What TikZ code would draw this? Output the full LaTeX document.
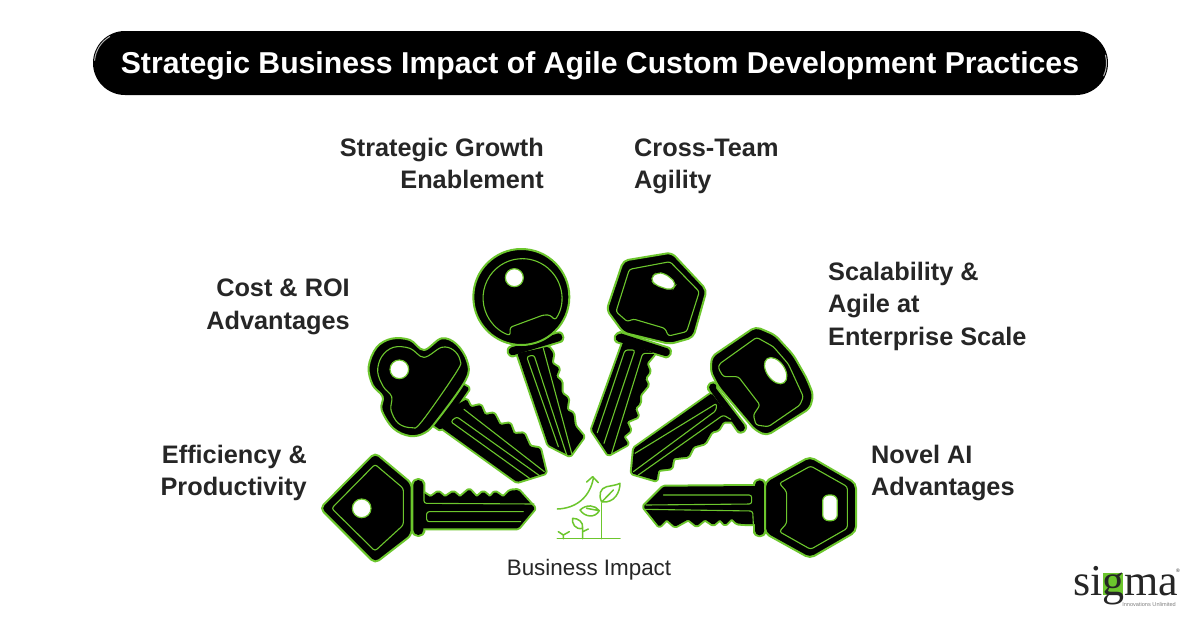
\documentclass[tikz,border=0pt]{standalone}
\usepackage{fontspec}
\usetikzlibrary{calc}
\setmainfont{Liberation Sans}
\newfontfamily\logofont{Liberation Serif}
\definecolor{keygreen}{HTML}{6CC62D}
\definecolor{labelink}{HTML}{262626}
\tikzset{
  keybody/.style={fill=black,draw=keygreen,line width=2pt,line join=round,rounded corners=5pt},
  halo/.style={draw=keygreen,line width=4pt,line join=round,rounded corners=1.5pt},
  solidpart/.style={fill=black,rounded corners=1.5pt},
  keyline/.style={draw=keygreen,line width=1.1pt,line cap=round,line join=round,rounded corners=2.5pt},
  keyhole/.style={fill=white,draw=keygreen,line width=1.2pt},
  sprout/.style={draw=keygreen,line width=1.5pt,line cap=round,line join=round},
  biglabel/.style={font=\fontsize{25.3}{32.5}\selectfont\bfseries,text=labelink,inner sep=0pt},
  logotext/.style={font=\logofont\fontsize{44}{44}\selectfont,text=labelink,inner sep=0pt,anchor=base west}
}
\begin{document}
\begin{tikzpicture}[x=1pt,y=1pt,yscale=-1]
\useasboundingbox (0,0) rectangle (1200,627);
\fill[white] (0,0) rectangle (1200,627);
% title
\fill[black,rounded corners=32pt] (93,31) rectangle (1108,95);
\draw[gray!60,line width=1pt,line cap=round] ($(125,63)+(185:30.5)$) arc[start angle=185,end angle=240,radius=30.5];
\draw[gray!60,line width=1pt,line cap=round] ($(1076,63)+(-15:30.5)$) arc[start angle=-15,end angle=25,radius=30.5];
\node[font=\fontsize{30.2}{36}\selectfont\bfseries,text=white,inner sep=0pt,anchor=base] (title) at (600,73) {Strategic Business Impact of Agile Custom Development Practices};
% labels
\node[biglabel,align=right,anchor=east] (l1) at (544,163.5) {Strategic Growth\\Enablement};
\node[biglabel,align=left,anchor=west] (l2) at (634,166.5) {Cross-Team\\Agility};
\node[biglabel,align=right,anchor=east] (l3) at (350,307) {Cost \& ROI\\Advantages};
\node[biglabel,align=left,anchor=west] (l4) at (828,306) {Scalability \&\\Agile at\\Enterprise Scale};
\node[biglabel,align=right,anchor=east] (l5) at (307,473) {Efficiency \&\\Productivity};
\node[biglabel,align=left,anchor=west] (l6) at (871,473) {Novel AI\\Advantages};
\node[font=\fontsize{22.4}{26}\selectfont,text=labelink,inner sep=0pt,anchor=base] (impact) at (589,575) {Business Impact};

% key 1 : left horizontal
\begin{scope}[shift={(310,440)},scale=1/3]
\def\pblade{(335,155)--(362,172)--(385,155)--(405,172)--(430,155)--(450,172)--(478,148)--(500,172)--(520,155)--(540,172)--(555,155)--(580,172)--(600,152)--(625,150)--(675,205)--(625,265)--(330,265)--cycle}
\def\pcollar{(310,135) arc[start angle=180,end angle=360,radius=15]--(340,270) arc[start angle=0,end angle=180,radius=15]--cycle}
\draw[halo] \pblade; \draw[halo] \pcollar;
\fill[solidpart] \pblade; \fill[black] \pcollar;
\draw[keybody] (195,38)--(305,130)--(305,285)--(195,370)--(30,205)--cycle;
\draw[keyline] (195,73)--(280,145)--(280,255)--(195,333)--(65,205)--cycle;
\draw[keyhole] (155,205) circle[radius=28];
\draw[keyline] (342,158)--(342,190)--(672,192);
\draw[keyline] (640,215)--(350,215)--(350,245)--(632,245);
\end{scope}

% key 2 : trefoil
\begin{scope}[shift={(310,240)},scale=1/3]
\def\pblade{(430,500)--(470,478)--(482,502)--(512,495)--(525,525)--(552,520)--(570,555)--(600,550)--(612,582)--(642,580)--(660,620)--(690,625)--(708,699)--(621,726)--(390,560)--cycle}
\def\pcollar{(445,425)--(478,445)--(392,570)--(362,550)--cycle}
\draw[halo] \pblade; \draw[halo] \pcollar;
\fill[solidpart] \pblade; \fill[solidpart] \pcollar;
\draw[keybody,sharp corners] plot[smooth cycle,tension=.6] coordinates {(342,330)(300,300)(245,296)(200,322)(176,380)(188,435)(218,470)(215,510)(250,565)(300,588)(345,578)(382,540)(467,420)(472,365)(440,313)(395,295)};
\draw[keyline,sharp corners] plot[smooth cycle,tension=.6] coordinates {(342,352)(300,325)(250,322)(215,350)(203,395)(220,440)(245,470)(243,510)(265,550)(305,563)(335,545)(440,395)(450,360)(430,330)(395,322)};
\draw[keyhole] (268,388) circle[radius=28];
\draw[keyline] (462,508)--(703,695);
\draw[keyline] (690,708)--(440,530)--(422,545)--(660,716);
\end{scope}

% key 3 : round head
\begin{scope}[shift={(310,240)},scale=1/3]
\def\pblade{(622,340)--(715,615)--(780,648)--(822,590)--(795,558)--(790,520)--(770,510)--(775,475)--(755,460)--(755,425)--(738,410)--(748,385)--(725,370)--(730,340)--(715,320)--cycle}
\def\pcollar{(605,322)--(745,280) arc[start angle=-90,end angle=70,radius=12]--(612,345) arc[start angle=70,end angle=250,radius=12]--cycle}
\draw[halo] \pblade; \draw[halo] \pcollar;
\fill[solidpart] \pblade; \fill[black] \pcollar;
\draw[keybody] (634,171) circle[radius=144];
\draw[keyline] (735,240) arc[start angle=34,end angle=-252,radius=118]--(600,262)--(700,225)--(720,225)--cycle;
\draw[keyhole] (613,113) circle[radius=27];
\draw[keyline] (700,325)--(785,640);
\draw[keyline] (770,645)--(672,345)--(650,350)--(745,620);
\end{scope}

% key 4 : hexagon head
\begin{scope}[shift={(590,240)},scale=1/3]
\def\pblade{(100,305)--(5,570)--(55,645)--(115,612)--(100,590)--(122,572)--(110,545)--(145,530)--(135,505)--(150,490)--(150,465)--(175,435)--(165,415)--(180,395)--(170,370)--(195,340)--cycle}
\def\pcollar{(92,280)--(232,325) arc[start angle=-70,end angle=110,radius=12]--(85,305) arc[start angle=110,end angle=290,radius=12]--cycle}
\draw[halo] \pblade; \draw[halo] \pcollar;
\fill[solidpart] \pblade; \fill[black] \pcollar;
\draw[keybody] (100,62)--(245,38)--(350,150)--(310,292)--(240,312)--(100,278)--(50,210)--cycle;
\draw[keyline] (118,88)--(240,65)--(328,155)--(290,275)--(235,288)--(225,265)--(130,237)--(112,245)--(78,215)--cycle;
\draw[keyhole,rounded corners=5pt] (180,115)--(200,98)--(225,100)--(260,130)--(245,152)--(195,135)--cycle;
\draw[keyline] (22,578)--(105,330)--(135,330)--(42,610);
\draw[keyline] (65,640)--(158,340)--(192,340);
\end{scope}

% key 5 : rounded square head
\begin{scope}[shift={(590,240)},scale=1/3]
\def\pblade{(365,460)--(132,625)--(125,700)--(200,722)--(205,690)--(245,685)--(250,655)--(295,650)--(310,620)--(345,610)--(365,575)--(385,570)--(400,545)--(430,545)--cycle}
\def\pcollar{(378,445)--(462,555) arc[start angle=-40,end angle=140,radius=12]--(360,450) arc[start angle=140,end angle=320,radius=12]--cycle}
\draw[halo] \pblade; \draw[halo] \pcollar;
\fill[solidpart] \pblade; \fill[black] \pcollar;
\draw[keybody] (365,350)--(497,260)--(555,285)--(610,345)--(650,415)--(670,465)--(660,505)--(530,587)--(495,570)--(385,440)--(362,395)--cycle;
\draw[keyline] (388,372)--(500,292)--(550,320)--(595,372)--(640,470)--(630,495)--(535,560)--(498,555)--(490,525)--(510,495)--(445,410)--(400,410)--(385,385)--cycle;
\draw[keyhole] (557,392) ellipse[x radius=44,y radius=27,rotate=55];
\draw[keyline] (135,640)--(380,490)--(378,512)--(130,695);
\draw[keyline] (145,705)--(400,525)--(422,538);
\end{scope}

% key 6 : right horizontal
\begin{scope}[shift={(540,440)},scale=1/3]
\def\pblade{(310,200)--(370,140)--(655,138)--(650,252)--(610,252)--(590,250)--(575,235)--(555,255)--(540,238)--(520,255)--(495,238)--(470,258)--(445,238)--(405,260)--(380,238)--(358,260)--cycle}
\def\pcollar{(645,135) arc[start angle=180,end angle=360,radius=14]--(673,272) arc[start angle=0,end angle=180,radius=14]--cycle}
\draw[halo] \pblade; \draw[halo] \pcollar;
\fill[solidpart] \pblade; \fill[black] \pcollar;
\draw[keybody] (675,125)--(810,50)--(948,130)--(948,275)--(810,355)--(675,280)--cycle;
\draw[keyline] (718,130)--(812,78)--(922,140)--(922,265)--(812,328)--(718,275)--(740,250)--(740,155)--cycle;
\draw[keyhole,rounded corners=6pt] (848,165) rectangle (892,242);
\draw[keyline] (370,165)--(635,165)--(635,192)--(318,195);
\draw[keyline] (315,208)--(638,213)--(640,252);
\end{scope}

% sprout icon
\begin{scope}[shift={(540,440)},scale=1/3]
\draw[sprout] (52,296)--(240,296);
\draw[sprout] (185,296)--(185,190);
\draw[sprout] (52,207) .. controls (110,205) and (150,170) .. (160,115);
\draw[sprout] (140,126)--(158,110)--(175,128);
\draw[sprout] (185,186) .. controls (175,165) and (180,145) .. (200,140) .. controls (215,137) and (230,135) .. (240,130) .. controls (240,155) and (225,190) .. (185,186)--(220,150);
\draw[sprout] (178,212) .. controls (165,195) and (140,192) .. (120,210) .. controls (135,232) and (165,235) .. (178,212)--(140,205);
\draw[sprout] (128,296)--(128,265) .. controls (105,270) and (95,250) .. (98,235) .. controls (115,235) and (130,245) .. (128,265);
\draw[sprout] (128,275)--(145,267);
\draw[sprout] (70,296)--(70,285)--(55,275);
\draw[sprout] (70,285)--(88,275);
\end{scope}

% logo
\fill[keygreen] (1103,573) rectangle (1123,595);
\node[logotext] (logoa) at (1073,595) {si};
\node[logotext] (logob) at (1102.3,595) {g};
\node[logotext] (logoc) at (1124.3,595) {ma};
\node[font=\fontsize{5.6}{6}\selectfont,text=gray,inner sep=0pt,anchor=base east] (tagline) at (1176,606) {Innovations Unlimited};
\node[font=\fontsize{5}{5}\selectfont,text=labelink,inner sep=0pt] (reg) at (1178,571) {®};
\end{tikzpicture}
\end{document}
